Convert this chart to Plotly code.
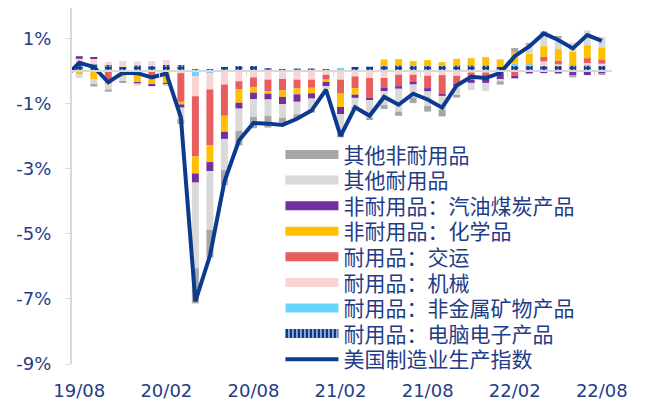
import plotly.graph_objects as go

# monthly contributions to US manufacturing output yoy (%), 19/08 - 22/08
months = ['19/08', '19/09', '19/10', '19/11', '19/12', '20/01', '20/02', '20/03', '20/04', '20/05',
          '20/06', '20/07', '20/08', '20/09', '20/10', '20/11', '20/12', '21/01', '21/02', '21/03',
          '21/04', '21/05', '21/06', '21/07', '21/08', '21/09', '21/10', '21/11', '21/12', '22/01',
          '22/02', '22/03', '22/04', '22/05', '22/06', '22/07', '22/08']
tick_labels = ['19/08', '20/02', '20/08', '21/02', '21/08', '22/02', '22/08']

elec = [0.20, 0.20, 0.18, 0.12, 0.17, 0.15, 0.18, 0.18, 0.05, 0.05,
        0.12, 0.15, 0.15, 0.08, 0.05, 0.07, 0.07, 0.05, 0.05, 0.12,
        0.13, 0.15, 0.17, 0.15, 0.15, 0.15, 0.17, 0.17, 0.17, 0.12,
        0.15, 0.17, 0.15, 0.16, 0.17, 0.17, 0.17]
nonmetal = [0, 0, 0, 0, 0, 0, 0, 0, -0.16, -0.07,
            0, 0, 0, 0, 0, 0, 0, 0, 0.02, 0,
            0, -0.02, 0, 0, 0, 0, 0, 0, 0, 0,
            0.07, 0.03, 0, 0, 0, 0, 0]
machinery = [0.17, 0.17, 0.10, 0.18, 0.12, 0.15, 0.15, -0.07, -0.62, -0.50,
             -0.42, -0.32, -0.20, -0.27, -0.25, -0.27, -0.27, -0.12, -0.27, -0.17,
             -0.22, -0.20, -0.12, -0.12, -0.15, -0.13, -0.15, -0.05, -0.05, -0.02,
             0, 0, 0.14, 0.04, 0, 0.07, 0.05]
transport = [0, 0, -0.30, 0, 0, -0.20, 0, -0.88, -1.85, -1.72,
             -0.96, -0.25, -0.30, -0.35, -0.35, -0.27, -0.25, -0.15, -0.43, -0.36,
             -0.60, -0.30, -0.35, -0.22, -0.38, -0.57, -0.25, -0.22, -0.20, -0.05,
             -0.15, 0, 0.15, 0.12, 0, 0.15, 0.13]
chemicals = [-0.10, -0.25, -0.12, -0.18, -0.35, -0.22, -0.38, -0.08, -0.52, -0.51,
             -0.49, -0.41, -0.17, -0.08, -0.20, -0.18, -0.17, -0.07, -0.41, -0.20,
             0, 0.20, 0.19, 0.15, 0.18, 0.12, 0.20, 0.22, 0.25, 0.23,
             0.35, 0.32, 0.32, 0.35, 0.42, 0.40, 0.37]
petroleum = [0.08, 0.03, 0, 0, -0.03, -0.05, -0.05, -0.10, -0.28, -0.28,
             -0.22, -0.18, -0.20, -0.18, -0.22, -0.23, -0.16, -0.13, -0.22, -0.10,
             -0.08, -0.10, -0.08, -0.08, -0.10, -0.07, -0.07, -0.10, -0.12, -0.20,
             -0.08, -0.08, -0.07, -0.08, -0.13, -0.13, -0.07]
other_dur = [-0.12, -0.18, -0.15, -0.15, -0.07, 0, -0.03, -0.35, -2.63, -1.80,
             -0.96, -0.68, -0.54, -0.50, -0.42, -0.38, -0.38, -0.10, -0.61, -0.30,
             -0.55, -0.43, -0.70, -0.40, -0.45, -0.43, -0.30, -0.22, -0.25, -0.05,
             0, 0.28, 0.35, 0.35, 0.28, 0.45, 0.32]
other_nondur = [0, -0.05, -0.07, -0.04, 0, 0, 0, -0.15, -1.08, -0.85,
                -0.46, -0.45, -0.35, -0.36, -0.15, -0.12, -0.05, 0, -0.10, -0.05,
                -0.05, -0.12, -0.13, -0.17, -0.17, -0.20, -0.05, 0, 0, -0.10,
                0.13, 0.05, 0.10, 0.03, -0.07, 0, -0.05]

# index yoy, starts one month earlier (19/07)
index_yoy = [-0.20, 0.25, 0.12, -0.35, -0.06, -0.07, -0.20, -0.08, -1.43, -7.08, -5.68,
             -3.40, -2.14, -1.60, -1.62, -1.66, -1.47, -1.22, -0.58, -2.00, -1.12,
             -1.38, -0.80, -1.04, -0.70, -0.88, -1.13, -0.45, -0.18, -0.22, -0.06,
             0.45, 0.75, 1.15, 0.95, 0.69, 1.10, 0.92]

yticks = [1, -1, -3, -5, -7, -9]
yticklabels = ['1%', '-1%', '-3%', '-5%', '-7%', '-9%']

TXT = '#1F3C88'
NAVY = '#0B3A8F'
AXIS = '#D9D9D9'

x = list(range(len(months)))
x_line = list(range(-1, len(months)))

# stacking order, nearest to zero first
series = [
    ('耐用品：电脑电子产品', elec, NAVY),
    ('耐用品：非金属矿物产品', nonmetal, '#66D6FF'),
    ('耐用品：机械', machinery, '#F8D4D4'),
    ('耐用品：交运', transport, '#E85D5D'),
    ('非耐用品：化学品', chemicals, '#FFC000'),
    ('非耐用品：汽油煤炭产品', petroleum, '#7030A0'),
    ('其他耐用品', other_dur, '#D9D9D9'),
    ('其他非耐用品', other_nondur, '#A6A6A6'),
]

data = []
for name, vals, col in series:
    bar = go.Bar(x=x, y=vals, name=name, width=0.48, marker_color=col,
                 marker_line_width=0, showlegend=False)
    if name == '耐用品：电脑电子产品':
        bar.marker.pattern = dict(shape='.', fgcolor='white', size=4, solidity=0.35, fillmode='overlay')
    data.append(bar)

data.append(go.Scatter(x=x_line, y=index_yoy, mode='lines', name='美国制造业生产指数',
                       line=dict(color=NAVY, width=4), showlegend=False))

# legend: one small legend per entry so the row spacing can follow the original
legend_items = [(n, c, 9) for n, v, c in series[::-1]] + [('美国制造业生产指数', NAVY, 4)]
legends = {}
plot_h = 356.3
for k, (name, col, lw) in enumerate(legend_items):
    key = 'legend' if k == 0 else f'legend{k + 1}'
    dash = '3px,1px' if name == '耐用品：电脑电子产品' else 'solid'
    data.append(go.Scatter(x=[None], y=[None], xaxis='x2', mode='lines', name=name,
                           legend=key, line=dict(color=col, width=lw, dash=dash)))
    yc = 147 + 25.6 * k
    legends[key] = dict(x=0.386, y=(plot_h - yc) / plot_h, xanchor='left', yanchor='middle',
                        bgcolor='rgba(0,0,0,0)', itemwidth=53,
                        font=dict(family='Noto Sans CJK SC', size=21, color=TXT))

xrange = [-0.5, 36.7]
y0 = -9
y1 = 1.93

layout = go.Layout(
    width=637,
    height=397,
    margin=dict(l=64, r=33, t=0, b=41),
    barmode='relative',
    plot_bgcolor='white',
    paper_bgcolor='white',
    font=dict(family='DejaVu Sans', color=TXT, size=18),
    xaxis=dict(range=xrange, showgrid=False, zeroline=False, showline=False, ticks='',
               tickvals=[months.index(t) for t in tick_labels], ticktext=tick_labels,
               tickfont=dict(family='DejaVu Sans', size=18, color=TXT), ticklabelstandoff=14),
    xaxis2=dict(range=xrange, overlaying='x', anchor='free', position=(0 - y0) / (y1 - y0),
                showgrid=False, zeroline=False, showline=True, linecolor=AXIS, linewidth=2,
                ticks='outside', ticklen=5, tickwidth=1, tickcolor=AXIS,
                tickvals=[months.index(t) - 0.5 for t in tick_labels[1:]], showticklabels=False),
    yaxis=dict(range=[y0, y1], showgrid=False, zeroline=False, showline=True, linecolor=AXIS,
               linewidth=2, ticks='outside', ticklen=5, tickcolor=AXIS,
               tickvals=yticks, ticktext=yticklabels,
               tickfont=dict(family='DejaVu Sans', size=18, color=TXT), ticklabelstandoff=10),
    **legends,
)

fig = go.Figure(data=data, layout=layout)
fig.write_html("out.html")
